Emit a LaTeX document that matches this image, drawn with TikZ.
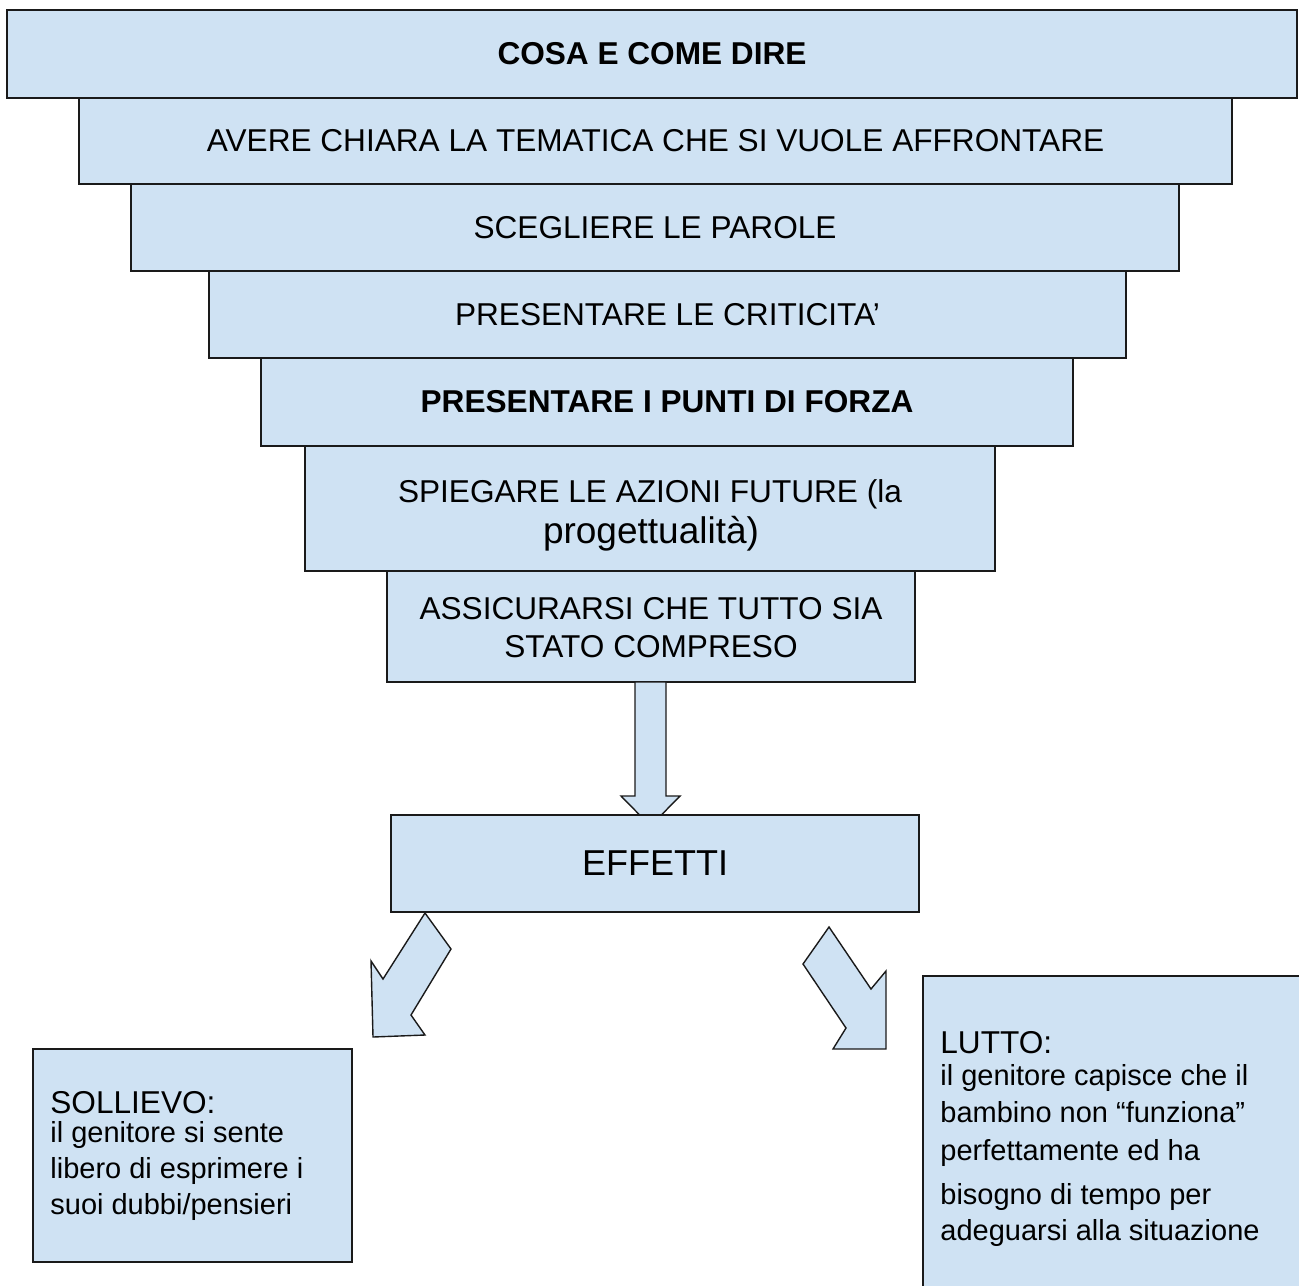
\documentclass[tikz,border=0pt]{standalone}
\usepackage{fontspec}
\setmainfont{Liberation Sans}
\usetikzlibrary{calc}
\definecolor{boxfill}{HTML}{CFE2F3}
\definecolor{boxline}{HTML}{1A1A1A}
\tikzset{
  box/.style={rectangle, draw=boxline, fill=boxfill, line width=0.7pt,
    inner sep=0pt, outer sep=0pt, font=\fontsize{15.8}{19}\selectfont},
  blockarrow/.style={draw=boxline, fill=boxfill, line width=0.7pt, line join=miter},
  linec/.style={inner sep=0pt, anchor=base, font=\fontsize{15.8}{19}\selectfont},
  headl/.style={inner sep=0pt, anchor=base west, font=\fontsize{15.8}{19}\selectfont},
  bodyl/.style={inner sep=0pt, anchor=base west, font=\fontsize{14.5}{17}\selectfont},
}
\begin{document}
\begin{tikzpicture}[x=0.5pt,y=-0.5pt]
\useasboundingbox (0,0) rectangle (1299,1285);

% stacked funnel of steps
\node[box, minimum width=645pt,   minimum height=44pt]   (b1) at (652,54)     {\bfseries COSA E COME DIRE};
\node[box, minimum width=576.5pt, minimum height=43pt]   (b2) at (655.5,141)  {AVERE CHIARA LA TEMATICA CHE SI VUOLE AFFRONTARE};
\node[box, minimum width=524pt,   minimum height=43.5pt] (b3) at (655,227.5)  {SCEGLIERE LE PAROLE};
\node[box, minimum width=458.5pt, minimum height=43.5pt] (b4) at (667.5,314.5){PRESENTARE LE CRITICITA’};
\node[box, minimum width=406pt,   minimum height=44pt]   (b5) at (667,402)    {\bfseries PRESENTARE I PUNTI DI FORZA};
\node[box, minimum width=345pt,   minimum height=62.5pt] (b6) at (650,508.5)  {};
\node[linec] (b6a) at (650,502) {SPIEGARE LE AZIONI FUTURE (la};
\node[linec, font=\fontsize{18.5}{22}\selectfont] (b6b) at (651,543) {progettualità)};
\node[box, minimum width=264pt,   minimum height=55.5pt] (b7) at (651,626.5)  {};
\node[linec] (b7a) at (651,619) {ASSICURARSI CHE TUTTO SIA};
\node[linec] (b7b) at (651,657) {STATO COMPRESO};

% arrow down to the effects box
\draw[blockarrow] ($(b7.south)+(-16,0)$) -- ($(b7.south)+(15,0)$) -- ++(0,114) -- ++(14,0)
  -- ++(-29.5,30) -- ++(-29.5,-30) -- ++(14,0) -- cycle;

\node[box, minimum width=264pt, minimum height=48.5pt, font=\fontsize{18}{22}\selectfont] (eff) at (655,863.5) {EFFETTI};

% diagonal arrows towards the two outcomes
\draw[blockarrow] (425,913) -- (451,949) -- (411,1015) -- (425,1035) -- (373,1037) -- (371,961) -- (383,979) -- cycle;
\draw[blockarrow] (829,927) -- (871,989) -- (886,971) -- (886,1049) -- (833,1049) -- (846,1028) -- (803,964) -- cycle;

% outcome: relief
\node[box, minimum width=159.5pt, minimum height=106.5pt] (sol) at (192.5,1155.5) {};
\node[headl] (sol0) at (50,1113) {SOLLIEVO:};
\node[bodyl] (sol1) at (50,1142) {il genitore si sente};
\node[bodyl] (sol2) at (50,1178) {libero di esprimere i};
\node[bodyl] (sol3) at (50,1214) {suoi dubbi/pensieri};

% outcome: grief (box runs past the page edge)
\begin{scope}
\clip (0,0) rectangle (1299,1285);
\node[box, minimum width=203.5pt, minimum height=167pt] (lut) at (1126.5,1143) {};
\end{scope}
\node[headl] (lut0) at (940,1053) {LUTTO:};
\node[bodyl] (lut1) at (940,1085) {il genitore capisce che il};
\node[bodyl] (lut2) at (940,1122) {bambino non “funziona”};
\node[bodyl] (lut3) at (940,1160) {perfettamente ed ha};
\node[bodyl] (lut4) at (940,1204) {bisogno di tempo per};
\node[bodyl] (lut5) at (940,1240) {adeguarsi alla situazione};
\end{tikzpicture}
\end{document}
